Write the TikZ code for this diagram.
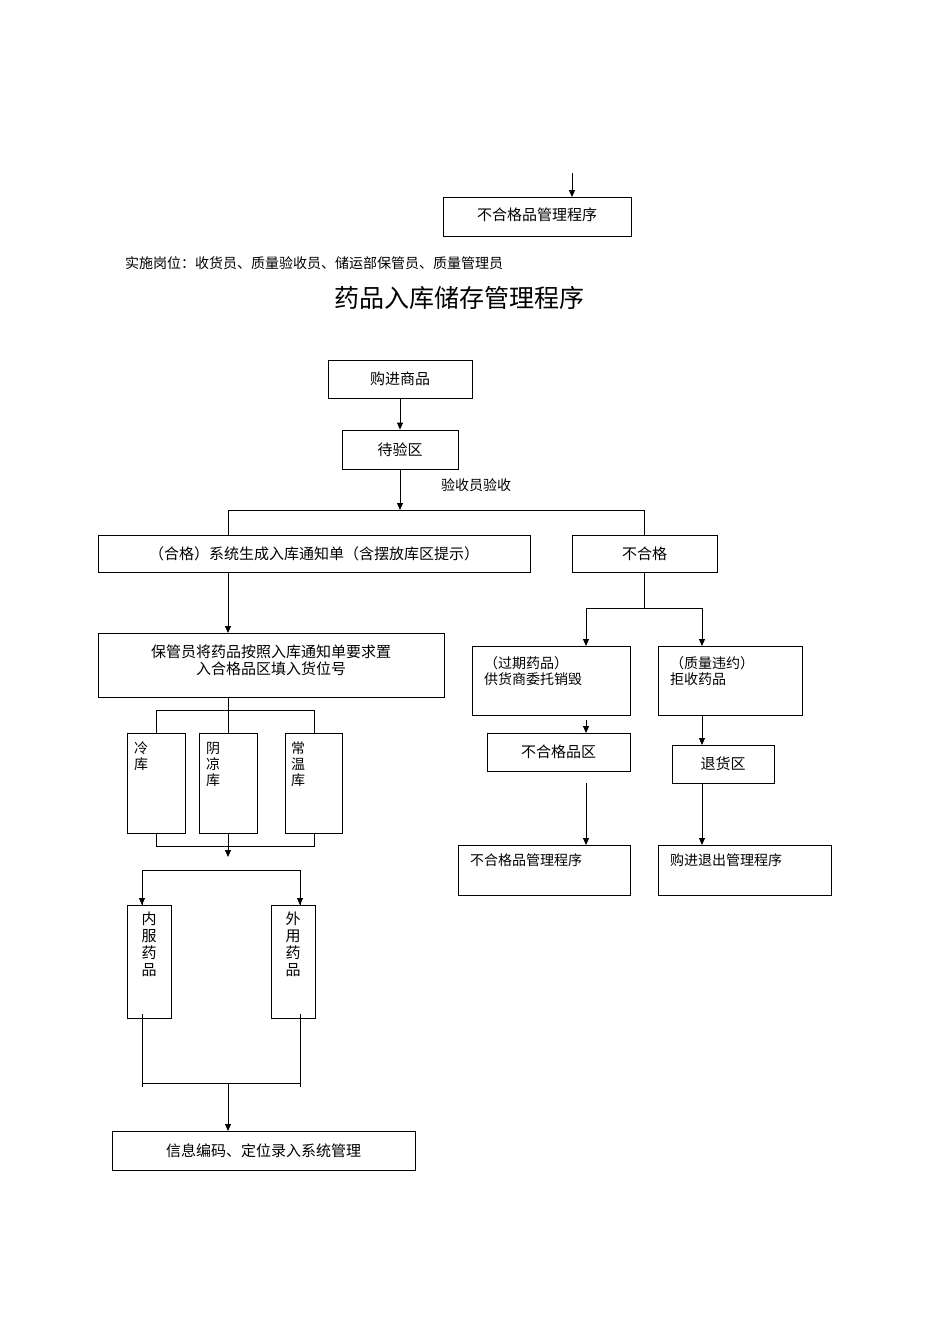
\documentclass[tikz,border=0pt]{standalone}
\usepackage{fontspec}
\setmainfont{Noto Sans CJK SC}
\usetikzlibrary{arrows.meta}
\begin{document}
\begin{tikzpicture}[x=1pt,y=-1pt,
  bx/.style={draw,line width=0.9pt,inner sep=0pt},
  ar/.style={line width=0.9pt,-{Triangle[length=7pt,width=6pt]}},
  ln/.style={line width=0.9pt},
  t/.style={font=\fontsize{15}{17}\selectfont,inner sep=0pt},
  ts/.style={font=\fontsize{14}{16}\selectfont,inner sep=0pt,align=left}]
\fill[white] (0,0) rectangle (950,1344);
\useasboundingbox (0,0) rectangle (950,1344);
% top fragment
\coordinate (t0) at (572,173);
\draw[bx] (443,197) rectangle (631,236);
\node[t] (top) at (537,215) {不合格品管理程序};
\draw[ar] (t0) -- (572,197);
\node[t,anchor=west,font=\fontsize{14}{16}\selectfont] (post) at (125,263) {实施岗位：收货员、质量验收员、储运部保管员、质量管理员};
\node[inner sep=0pt,font=\fontsize{25}{28}\selectfont] (title) at (459,298) {药品入库储存管理程序};
% main
\node[bx,minimum width=144pt,minimum height=38pt,t] (buy) at (400,379) {购进商品};
\node[bx,minimum width=116pt,minimum height=39pt,t] (wait) at (400,449.5) {待验区};
\draw[ar] (buy) -- (wait);
\coordinate (c1) at (400,510);
\draw[ar] (wait) -- (c1);
\node[ts] (lab) at (476,485) {验收员验收};
\node[bx,minimum width=432pt,minimum height=37pt,t] (ok) at (314,553.5) {（合格）系统生成入库通知单（含摆放库区提示）};
\node[bx,minimum width=145pt,minimum height=37pt,t] (ng) at (644.5,553.5) {不合格};
\draw[ln] (228,535) -- (228,510) -- (644,510) -- (644,535);
\node[bx,minimum width=346pt,minimum height=64pt] (keep) at (271,665) {};
\node[t,align=center] (keept) at (271,660) {保管员将药品按照入库通知单要求置\\入合格品区填入货位号};
\draw[ar] (228,572) -- (228,633);
\node[bx,minimum width=58pt,minimum height=100pt] (cold) at (156,783) {};
\node[bx,minimum width=58pt,minimum height=100pt] (cool) at (228,783) {};
\node[bx,minimum width=57pt,minimum height=100pt] (norm) at (313.5,783) {};
\node[ts,anchor=north west,align=left] at (134,742) {冷\\库};
\node[ts,anchor=north west,align=left] at (206,742) {阴\\凉\\库};
\node[ts,anchor=north west,align=left] at (291,742) {常\\温\\库};
\draw[ln] (228,697) -- (228,733);
\draw[ln] (156,733) -- (156,710) -- (314,710) -- (314,733);
\draw[ln] (156,833) -- (156,846) -- (314,846) -- (314,833);
\draw[ar] (228,833) -- (228,857);
\node[bx,minimum width=44pt,minimum height=113pt] (in) at (149,961.5) {};
\node[bx,minimum width=44pt,minimum height=113pt] (out) at (293,961.5) {};
\node[t,anchor=north,align=center] at (149,912) {内\\服\\药\\品};
\node[t,anchor=north,align=center] at (293,912) {外\\用\\药\\品};
\draw[ln] (142,905) -- (142,870) -- (300,870) -- (300,905);
\draw[ar] (142,870) -- (142,905);
\draw[ar] (300,870) -- (300,905);
\draw[ln] (142,1014) -- (142,1087);
\draw[ln] (300,1014) -- (300,1087);
\draw[ln] (142,1083) -- (300,1083);
\node[bx,minimum width=303pt,minimum height=39pt,t] (info) at (263.5,1150.5) {信息编码、定位录入系统管理};
\draw[ar] (228,1083) -- (228,1131);
% right branch
\node[bx,minimum width=158pt,minimum height=69pt] (exp) at (551,680.5) {};
\node[ts,anchor=north west] at (484,656) {（过期药品）\\供货商委托销毁};
\node[bx,minimum width=144pt,minimum height=69pt] (qv) at (730,680.5) {};
\node[ts,anchor=north west] at (670,656) {（质量违约）\\拒收药品};
\draw[ln] (644,572) -- (644,608);
\draw[ln] (586,608) -- (702,608);
\draw[ar] (586,608) -- (586,646);
\draw[ar] (702,608) -- (702,646);
\node[bx,minimum width=143pt,minimum height=38pt,t] (ngz) at (558.5,752) {不合格品区};
\node[bx,minimum width=102pt,minimum height=38pt,t] (ret) at (723,764) {退货区};
\draw[ar] (586,720) -- (586,733);
\draw[ar] (702,715) -- (702,745);
\node[bx,minimum width=172pt,minimum height=50pt] (ngp) at (544,870) {};
\node[ts,anchor=north west] at (470,853) {不合格品管理程序};
\node[bx,minimum width=173pt,minimum height=50pt] (rtp) at (744.5,870) {};
\node[ts,anchor=north west] at (670,853) {购进退出管理程序};
\draw[ar] (586,783) -- (586,845);
\draw[ar] (702,783) -- (702,845);
\end{tikzpicture}
\end{document}
